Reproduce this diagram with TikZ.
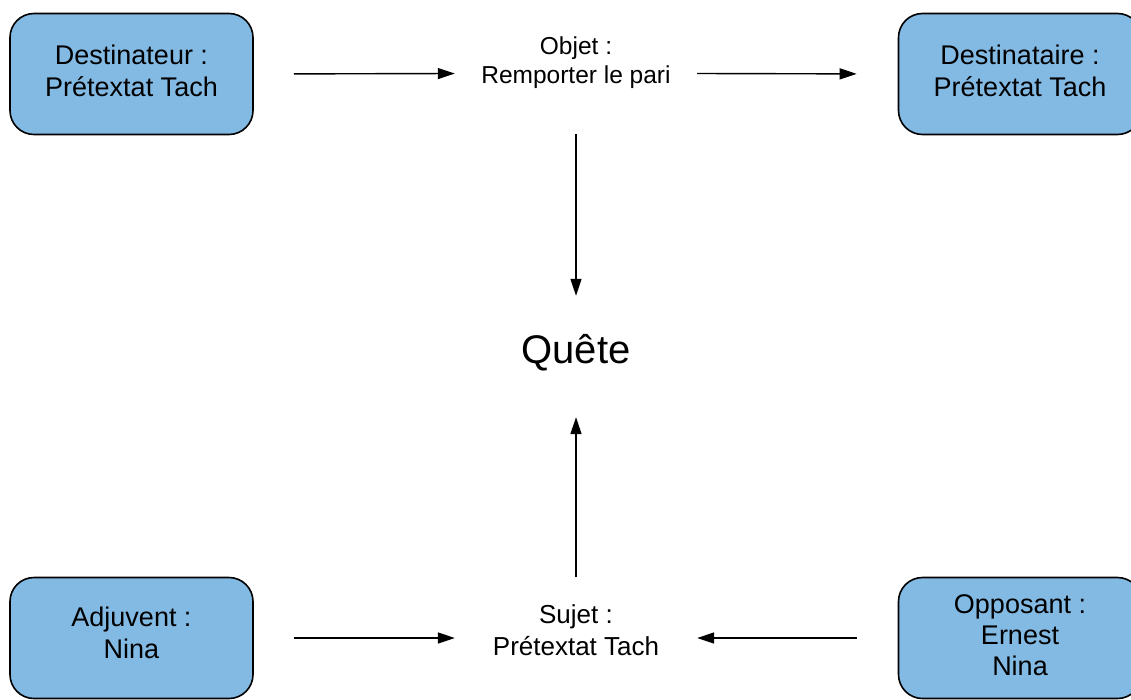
\documentclass[tikz,border=0pt]{standalone}
\usepackage{fontspec}
\setmainfont{Liberation Sans}
\usetikzlibrary{arrows.meta}
\definecolor{boxblue}{RGB}{131,186,228}
\newcommand\stacktxt[2]{\raisebox{#1}[\height][\depth]{\begin{tabular}{@{}c@{}}#2\end{tabular}}}
\tikzset{
  actbox/.style={draw=black, line width=1.6pt, fill=boxblue, rounded corners=24pt,
    minimum width=243pt, minimum height=121pt, inner sep=0pt,
    font=\fontsize{27}{32}\selectfont},
  plain/.style={minimum width=242pt, minimum height=121pt, inner sep=0pt},
  conn/.style={line width=1.4pt, -{Triangle[length=17pt,width=11pt]}}
}
\begin{document}
\begin{tikzpicture}[x=1pt,y=-1pt]
\useasboundingbox (0,0) rectangle (1131,699);
\clip (0,0) rectangle (1131,699);
\node[actbox] (dtr) at (131.5,74) {\stacktxt{0pt}{Destinateur :\\Prétextat Tach}};
\node[actbox] (dst) at (1020,74) {\stacktxt{0pt}{Destinataire :\\Prétextat Tach}};
\node[actbox] (adj) at (131.5,638) {\stacktxt{1.5pt}{Adjuvent :\\Nina}};
\node[actbox, font=\fontsize{27}{31.2}\selectfont] (opp) at (1020,638) {\stacktxt{0pt}{Opposant :\\Ernest\\Nina}};
\node[plain, font=\fontsize{24.5}{28.7}\selectfont] (obj) at (576,73.5) {\stacktxt{10.5pt}{Objet :\\Remporter le pari}};
\node[plain, font=\fontsize{40}{44}\selectfont] (qte) at (576,356.5) {\stacktxt{2pt}{Quête}};
\node[plain, font=\fontsize{26}{32.7}\selectfont] (suj) at (576,638) {\stacktxt{5pt}{Sujet :\\Prétextat Tach}};
\draw[conn, shorten <=40pt] (dtr.east) -- (obj.west);
\draw[conn, shorten >=41pt] (obj.east) -- (dst.west);
\draw[conn] (obj.south) -- (qte.north);
\draw[conn] (suj.north) -- (qte.south);
\draw[conn, shorten <=40pt] (adj.east) -- (suj.west);
\draw[conn, shorten <=41pt] (opp.west) -- (suj.east);
\end{tikzpicture}
\end{document}
